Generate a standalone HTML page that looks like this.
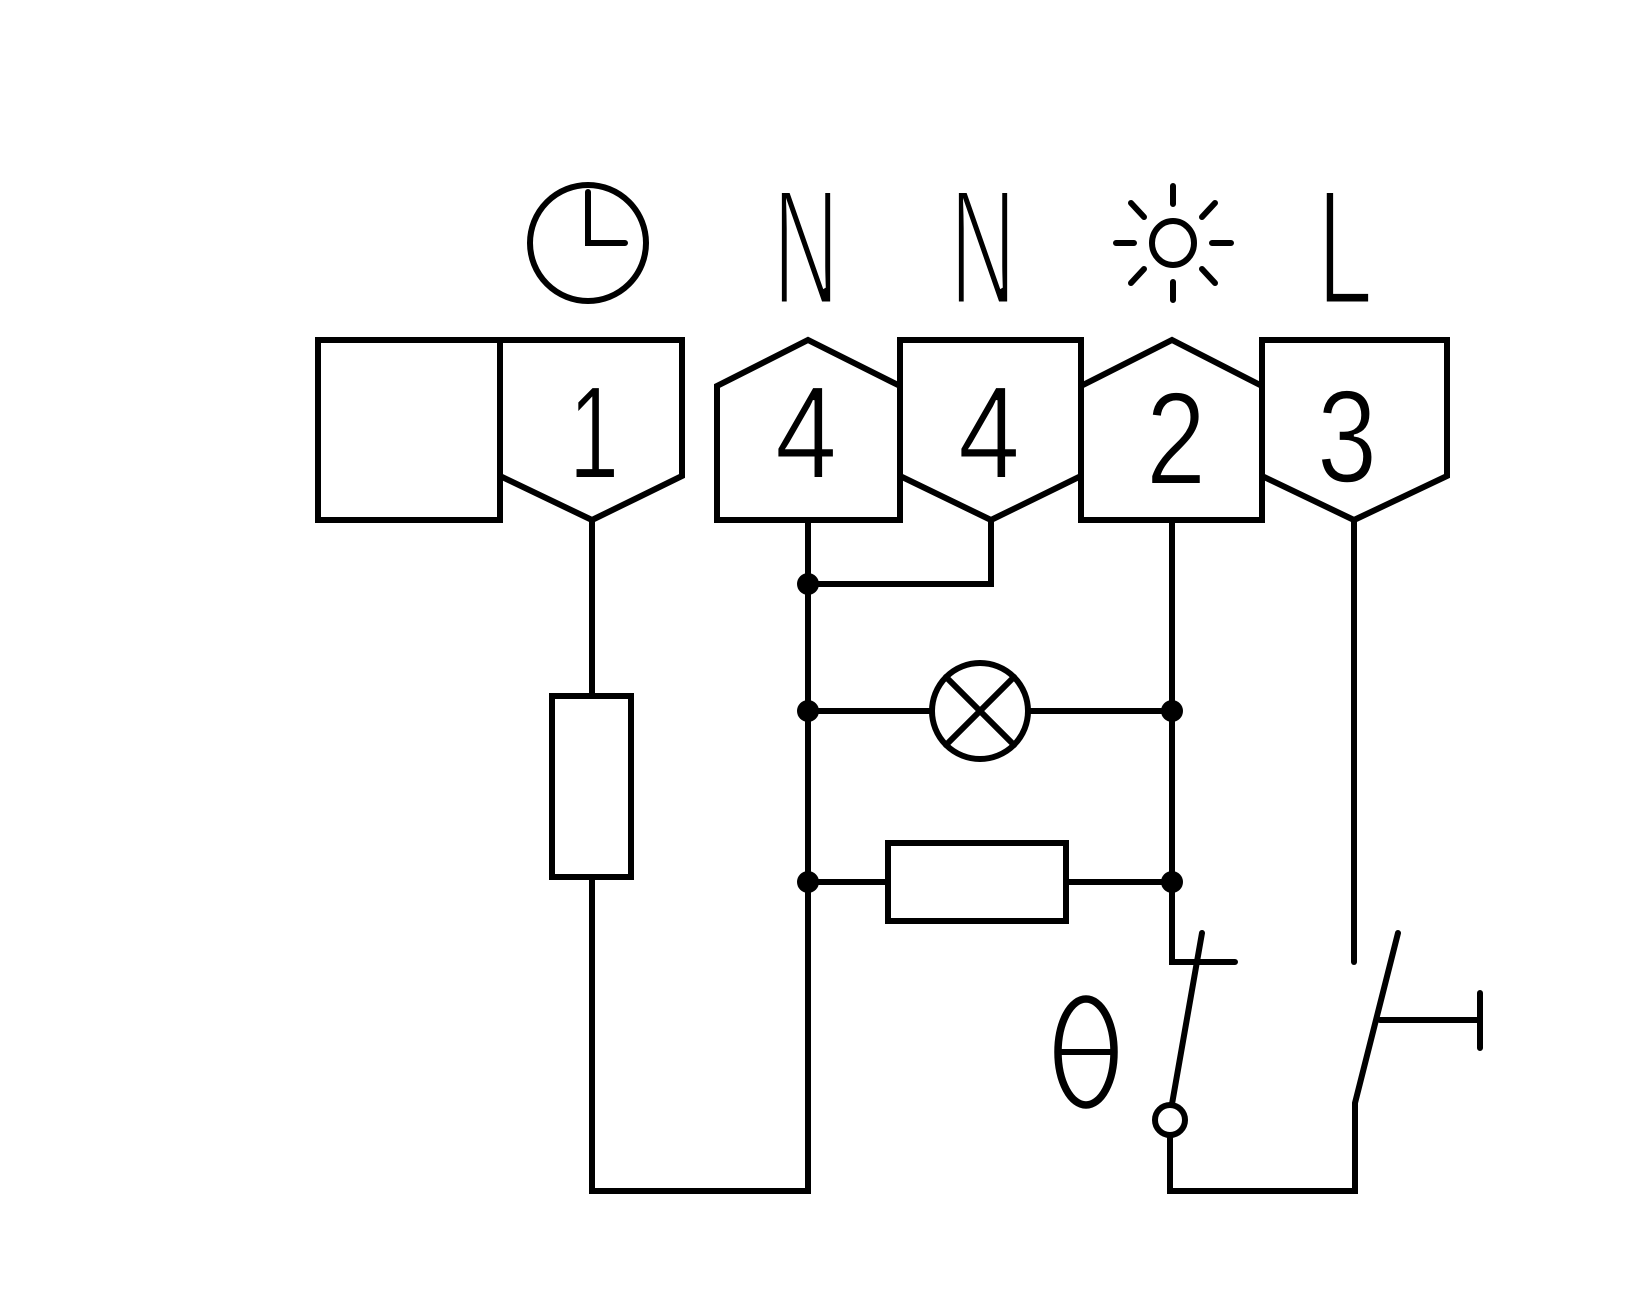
<!DOCTYPE html>
<html><head><meta charset="utf-8"><style>html,body{margin:0;padding:0;background:#fff}svg{display:block}</style></head>
<body>
<svg width="1640" height="1300" viewBox="0 0 1640 1300" xmlns="http://www.w3.org/2000/svg">
<g fill="none" stroke="#000" stroke-width="6" stroke-linejoin="miter" stroke-linecap="round">
<rect x="318" y="340" width="182" height="180" stroke-linecap="butt"/>
<path d="M500 340 H682 V476 L592 520 L500 476 Z"/>
<path d="M717 520 V386 L808 340 L900 386 V520 Z"/>
<path d="M900 340 H1081 V476 L991 520 L900 476 Z"/>
<path d="M1081 520 V386 L1172 340 L1262 386 V520 Z"/>
<path d="M1262 340 H1447 V476 L1354 520 L1262 476 Z"/>
<ellipse cx="588" cy="243" rx="58" ry="58"/>
<path d="M588 192 V243 H625"/>
<ellipse cx="1173" cy="243" rx="21" ry="22"/>
<path d="M1173 186 V204 M1173 282 V300 M1116 243 H1134 M1212 243 H1231 M1131 203 L1144 217 M1215 203 L1202 217 M1131 283 L1144 269 M1215 283 L1202 269"/>
<path d="M592 520 V696 M592 877 V1191 H808 V520"/>
<rect x="552" y="696" width="79" height="181"/>
<path d="M808 584 H991 V520"/>
<path d="M808 711 H932 M1028 711 H1172"/>
<circle cx="980" cy="711" r="48"/>
<path d="M946 677 L1014 745 M1014 677 L946 745"/>
<path d="M808 882 H888 M1066 882 H1172"/>
<rect x="888" y="843" width="178" height="78"/>
<path d="M1172 520 V962 H1235"/>
<path d="M1202 933 L1172 1104"/>
<circle cx="1170" cy="1120" r="15"/>
<path d="M1170 1135 V1191 H1355 V1103 L1398 933"/>
<path d="M1354 520 V962"/>
<path d="M1380 1020 H1480 M1480 993 V1048"/>
<ellipse cx="1086" cy="1052" rx="28" ry="53" stroke-width="7.5"/>
<path d="M1062 1052 H1110" stroke-width="6"/>
</g>
<g fill="#000">
<circle cx="808" cy="584" r="11"/>
<circle cx="808" cy="711" r="11"/>
<circle cx="1172" cy="711" r="11"/>
<circle cx="808" cy="882" r="11"/>
<circle cx="1172" cy="882" r="11"/>
</g>
<g font-family="Liberation Sans, sans-serif" fill="#000" stroke="#fff" text-anchor="middle">
<text x="806" y="304" font-size="165" stroke-width="5" textLength="66" lengthAdjust="spacingAndGlyphs">N</text>
<text x="983" y="304" font-size="165" stroke-width="5" textLength="66" lengthAdjust="spacingAndGlyphs">N</text>
<text x="1345" y="304" font-size="165" stroke-width="5" textLength="56" lengthAdjust="spacingAndGlyphs">L</text>
<text x="594" y="478" font-size="132" stroke-width="2" textLength="50" lengthAdjust="spacingAndGlyphs">1</text>
<text x="806" y="478" font-size="132" stroke-width="2" textLength="62" lengthAdjust="spacingAndGlyphs">4</text>
<text x="989" y="478" font-size="132" stroke-width="2" textLength="62" lengthAdjust="spacingAndGlyphs">4</text>
<text x="1176" y="484" font-size="132" stroke-width="2" textLength="60" lengthAdjust="spacingAndGlyphs">2</text>
<text x="1347" y="482" font-size="132" stroke-width="2" textLength="60" lengthAdjust="spacingAndGlyphs">3</text>
</g>
</svg>
</body></html>
